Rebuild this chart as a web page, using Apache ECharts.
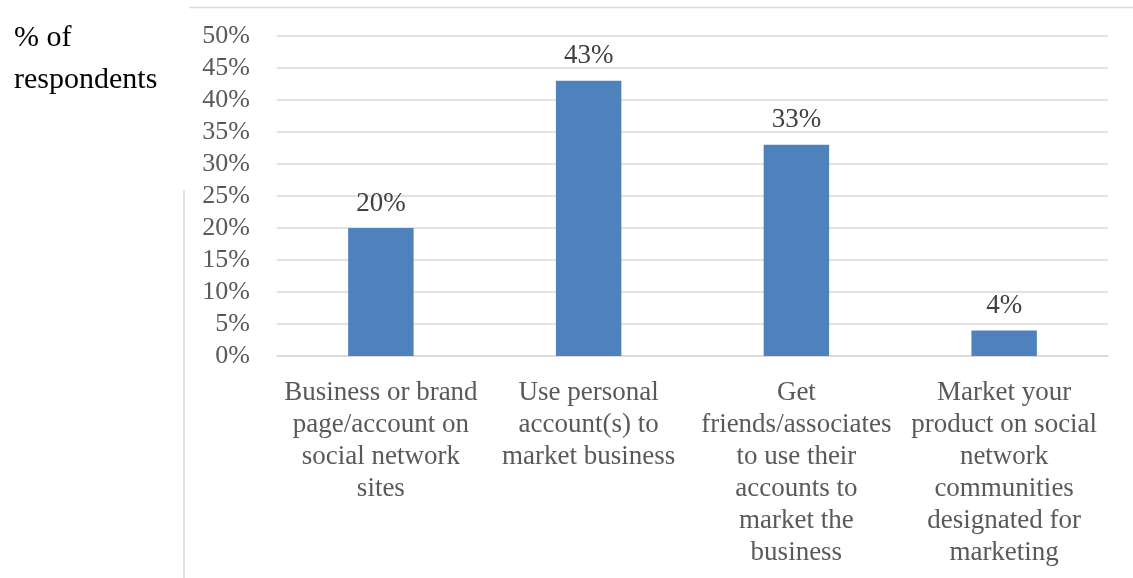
<!DOCTYPE html>
<html><head><meta charset="utf-8">
<script src="https://cdn.jsdelivr.net/npm/echarts@6/dist/echarts.min.js"></script>
<style>html,body{margin:0;padding:0;background:#fff}#c{width:1133px;height:578px}</style>
</head><body><div id="c"></div>
<script>
const categories = [
  "Business or brand\npage/account on\nsocial network\nsites",
  "Use personal\naccount(s) to\nmarket business",
  "Get\nfriends/associates\nto use their\naccounts to\nmarket the\nbusiness",
  "Market your\nproduct on social\nnetwork\ncommunities\ndesignated for\nmarketing"
];
const values = [20, 43, 33, 4];
const yTicks = [0, 5, 10, 15, 20, 25, 30, 35, 40, 45, 50];
const yAxisTitle = ["% of", "respondents"];

const chart = echarts.init(document.getElementById('c'), null, {renderer: 'canvas'});
const serif = '"Liberation Serif", "Times New Roman", serif';
chart.setOption({
  animation: false,
  grid: {left: 277, right: 25, top: 36, bottom: 222, containLabel: false},
  xAxis: {
    type: 'category', data: categories,
    axisLine: {show: true, lineStyle: {color: '#d9d9d9', width: 1.5}},
    axisTick: {show: false},
    axisLabel: {interval: 0, color: '#595959', fontFamily: serif, fontSize: 27, lineHeight: 32, margin: 21, align: 'center'}
  },
  yAxis: {
    type: 'value', min: yTicks[0], max: yTicks[yTicks.length - 1], interval: 5,
    axisLine: {show: false}, axisTick: {show: false},
    axisLabel: {color: '#595959', fontFamily: serif, fontSize: 26, margin: 27, formatter: v => v + '%'},
    splitLine: {lineStyle: {color: '#d9d9d9', width: 1.5}}
  },
  series: [{
    type: 'bar', data: values, barWidth: '31.5%',
    itemStyle: {color: '#4f81bd'},
    label: {show: true, position: 'top', distance: 11, color: '#404040', fontFamily: serif, fontSize: 27, formatter: p => p.value + '%'}
  }],
  graphic: [
    {type: 'text', left: 14, top: 17, style: {text: yAxisTitle.join('\n'), font: '30px ' + serif, fill: '#000', lineHeight: 42}},
    {type: 'line', shape: {x1: 189, y1: 7.5, x2: 1133, y2: 7.5}, style: {stroke: '#d9d9d9', lineWidth: 1.5}},
    {type: 'line', shape: {x1: 184, y1: 190, x2: 184, y2: 578}, style: {stroke: '#d9d9d9', lineWidth: 1.5}}
  ]
});
</script></body></html>
